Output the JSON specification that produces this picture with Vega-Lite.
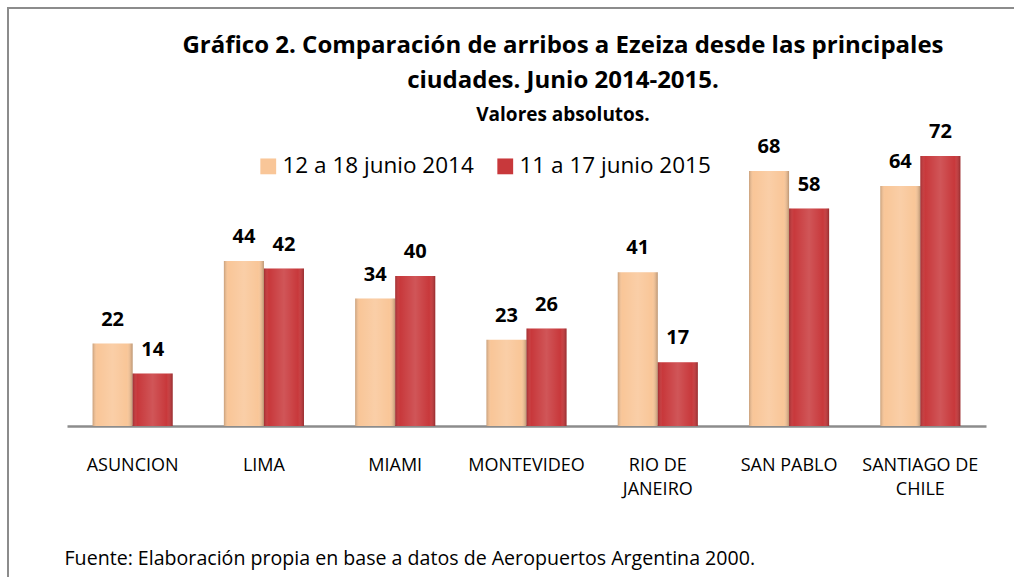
{
  "$schema": "https://vega.github.io/schema/vega-lite/v6.json",
  "width": 1020,
  "height": 580,
  "autosize": {"type": "none"},
  "padding": {"left": 8, "top": 8, "right": 0, "bottom": 0},
  "background": "white",
  "config": {
    "view": {"stroke": "#8c8c8c", "strokeWidth": 2},
    "font": "Open Sans, sans-serif"
  },
  "title": {
    "text": ["Gráfico  2. Comparación de arribos a Ezeiza desde las principales", "ciudades. Junio 2014-2015."],
    "subtitle": "Valores absolutos.",
    "fontSize": 24,
    "fontWeight": "bold",
    "lineHeight": 35,
    "color": "black",
    "subtitleFontSize": 19,
    "subtitleFontWeight": "bold",
    "subtitleColor": "black",
    "subtitlePadding": 13,
    "anchor": "middle",
    "frame": "group",
    "dx": 45,
    "offset": -117
  },
  "data": {
    "values": [
      {"city": "ASUNCION", "series": "12 a 18 junio 2014", "value": 22},
      {"city": "ASUNCION", "series": "11 a 17 junio 2015", "value": 14},
      {"city": "LIMA", "series": "12 a 18 junio 2014", "value": 44},
      {"city": "LIMA", "series": "11 a 17 junio 2015", "value": 42},
      {"city": "MIAMI", "series": "12 a 18 junio 2014", "value": 34},
      {"city": "MIAMI", "series": "11 a 17 junio 2015", "value": 40},
      {"city": "MONTEVIDEO", "series": "12 a 18 junio 2014", "value": 23},
      {"city": "MONTEVIDEO", "series": "11 a 17 junio 2015", "value": 26},
      {"city": "RIO DE JANEIRO", "series": "12 a 18 junio 2014", "value": 41},
      {"city": "RIO DE JANEIRO", "series": "11 a 17 junio 2015", "value": 17},
      {"city": "SAN PABLO", "series": "12 a 18 junio 2014", "value": 68},
      {"city": "SAN PABLO", "series": "11 a 17 junio 2015", "value": 58},
      {"city": "SANTIAGO DE CHILE", "series": "12 a 18 junio 2014", "value": 64},
      {"city": "SANTIAGO DE CHILE", "series": "11 a 17 junio 2015", "value": 72}
    ]
  },
  "encoding": {
    "x": {
      "field": "city",
      "type": "nominal",
      "sort": ["ASUNCION", "LIMA", "MIAMI", "MONTEVIDEO", "RIO DE JANEIRO", "SAN PABLO", "SANTIAGO DE CHILE"],
      "scale": {"range": [59, 978], "paddingInner": 0.39, "paddingOuter": 0.195},
      "axis": {
        "orient": "bottom",
        "offset": -162,
        "domainColor": "#8c8c8c",
        "domainWidth": 2.5,
        "ticks": false,
        "tickSize": 0,
        "labelPadding": 30,
        "labelFontSize": 18,
        "labelColor": "black",
        "labelAngle": 0,
        "labelLineHeight": 24,
        "labelLimit": 300,
        "labelOverlap": false,
        "labelFlush": false,
        "labelExpr": "datum.value == 'RIO DE JANEIRO' ? ['RIO DE', 'JANEIRO'] : datum.value == 'SANTIAGO DE CHILE' ? ['SANTIAGO DE', 'CHILE'] : datum.value",
        "title": "Fuente: Elaboración propia en base a datos de Aeropuertos Argentina 2000.",
        "titleX": 56,
        "titleY": 132,
        "titleAlign": "left",
        "titleBaseline": "middle",
        "titleFontSize": 19.6,
        "titleFontWeight": "normal",
        "titleColor": "black",
        "titleLimit": 1000
      }
    },
    "xOffset": {"field": "series", "type": "nominal", "sort": ["12 a 18 junio 2014", "11 a 17 junio 2015"]},
    "y": {"field": "value", "type": "quantitative", "scale": {"domain": [0, 80], "range": [418, 118]}, "axis": null}
  },
  "layer": [
    {
      "mark": {"type": "bar"},
      "encoding": {
        "color": {
          "field": "series",
          "type": "nominal",
          "scale": {"domain": ["12 a 18 junio 2014", "11 a 17 junio 2015"], "range": ["#F9C698", "#C8383B"]},
          "legend": {
            "orient": "none",
            "legendX": 249,
            "legendY": 147,
            "direction": "horizontal",
            "title": null,
            "symbolType": "square",
            "symbolSize": 250,
            "symbolStrokeWidth": 0,
            "labelFontSize": 22.5,
            "labelLimit": 400,
            "labelColor": "black",
            "labelOffset": 3,
            "columnPadding": 20
          }
        }
      }
    },
    {
      "mark": {
        "type": "bar",
        "fill": {
          "gradient": "linear",
          "x1": 0, "y1": 0, "x2": 1, "y2": 0,
          "stops": [
            {"offset": 0, "color": "rgba(0,0,0,0.2)"},
            {"offset": 0.12, "color": "rgba(255,255,255,0)"},
            {"offset": 0.5, "color": "rgba(255,255,255,0.15)"},
            {"offset": 0.85, "color": "rgba(255,255,255,0)"},
            {"offset": 1, "color": "rgba(0,0,0,0.25)"}
          ]
        }
      }
    },
    {
      "mark": {"type": "text", "fontSize": 20, "fontWeight": "bold", "baseline": "bottom", "dy": -14, "color": "black"},
      "encoding": {"text": {"field": "value", "type": "quantitative"}}
    }
  ]
}
